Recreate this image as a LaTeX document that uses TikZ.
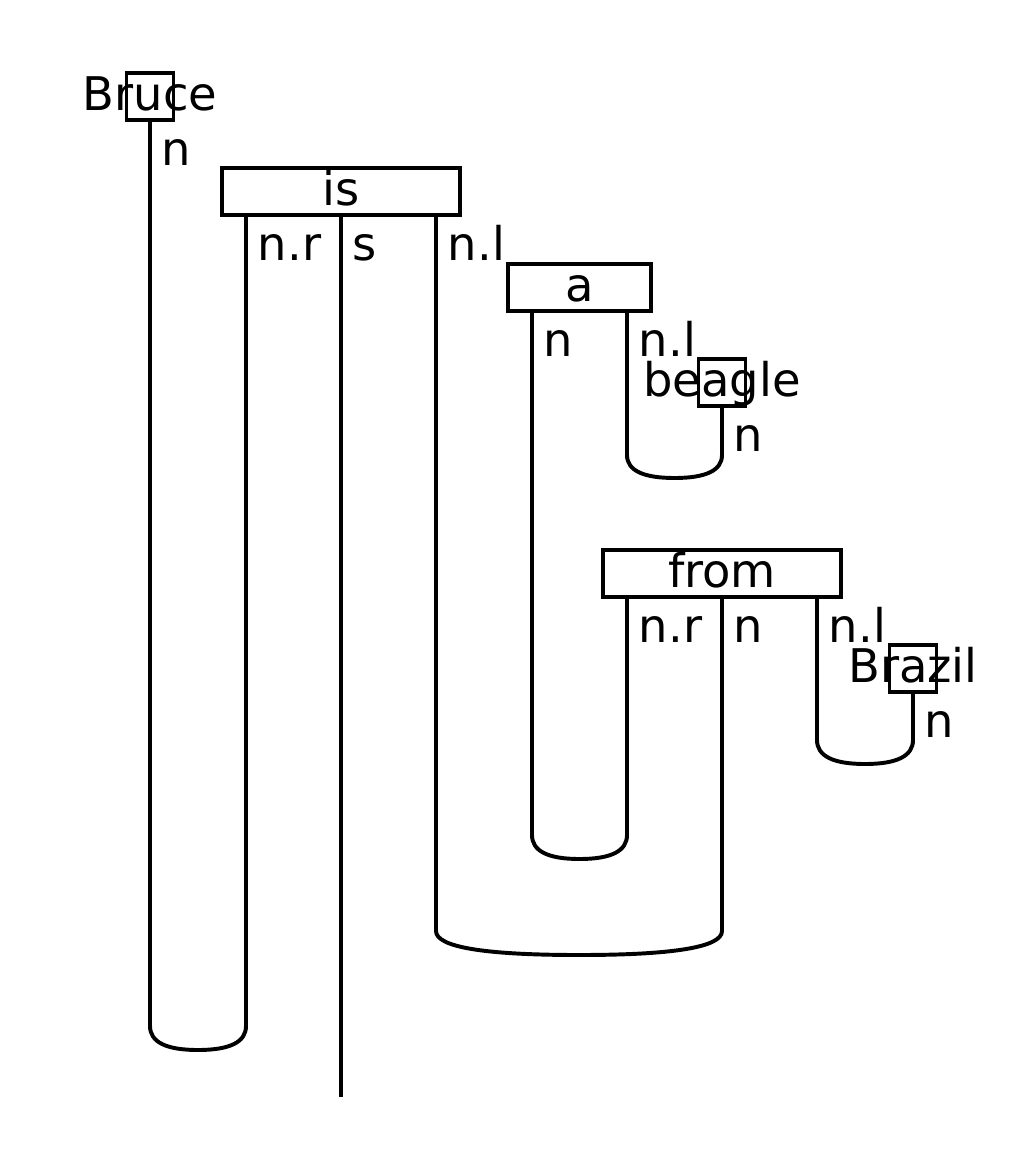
\documentclass[tikz,border=0pt]{standalone}
\usepackage{fontspec}
\setmainfont{DejaVu Sans}
\begin{document}
\begin{tikzpicture}[x=0.025cm, y=-0.025cm, line width=2.8pt,
  wordbox/.style={draw, rectangle, inner sep=0pt, minimum height=1.175cm},
  wordtext/.style={anchor=base, inner sep=0pt, font=\fontsize{33}{40}\selectfont},
  wirelabel/.style={anchor=base west, inner sep=0pt, font=\fontsize{33}{40}\selectfont}]
  \useasboundingbox (0,0) rectangle (1031,1176);

  % boxes
  \node (bruce)  [wordbox, minimum width=1.175cm] at (150,96.5) {};
  \node (is)     [wordbox, minimum width=5.95cm]  at (341,191.5) {};
  \node (a)      [wordbox, minimum width=3.575cm] at (579.5,287.5) {};
  \node (beagle) [wordbox, minimum width=1.175cm] at (722,382.5) {};
  \node (from)   [wordbox, minimum width=5.95cm]  at (722,573.5) {};
  \node (brazil) [wordbox, minimum width=1.175cm] at (913,668.5) {};

  \node (bruce-t)  [wordtext] at (150,110) {Bruce};
  \node (is-t)     [wordtext] at (341,205) {is};
  \node (a-t)      [wordtext] at (579.5,301) {a};
  \node (beagle-t) [wordtext] at (722,396) {beagle};
  \node (from-t)   [wordtext] at (722,587) {from};
  \node (brazil-t) [wordtext] at (913,682) {Brazil};

  % output ports
  \coordinate (is-nr)   at (246,215);
  \coordinate (is-s)    at (341,215);
  \coordinate (is-nl)   at (436,215);
  \coordinate (a-n)     at (532,311);
  \coordinate (a-nl)    at (627,311);
  \coordinate (from-nr) at (627,597);
  \coordinate (from-n)  at (722,597);
  \coordinate (from-nl) at (817,597);

  % cup corners
  \coordinate (c1l) at (150,1026); \coordinate (c1r) at (246,1026);
  \coordinate (c2l) at (436,931);  \coordinate (c2r) at (722,931);
  \coordinate (c3l) at (532,835);  \coordinate (c3r) at (627,835);
  \coordinate (c4l) at (627,455);  \coordinate (c4r) at (722,455);
  \coordinate (c5l) at (817,740);  \coordinate (c5r) at (913,740);
  \coordinate (s-end) at (341,1097);

  % wires
  \draw (bruce.south) -- (c1l) .. controls (150,1042) and (166,1050) .. (198,1050)
        .. controls (230,1050) and (246,1042) .. (c1r) -- (is-nr);
  \draw (is-s) -- (s-end);
  \draw (is-nl) -- (c2l) .. controls (436,947) and (483.7,955) .. (579,955)
        .. controls (674.3,955) and (722,947) .. (c2r) -- (from-n);
  \draw (a-n) -- (c3l) .. controls (532,851) and (547.8,859) .. (579.5,859)
        .. controls (611.2,859) and (627,851) .. (c3r) -- (from-nr);
  \draw (a-nl) -- (c4l) .. controls (627,470.3) and (642.8,478) .. (674.5,478)
        .. controls (706.2,478) and (722,470.3) .. (c4r) -- (beagle.south);
  \draw (from-nl) -- (c5l) .. controls (817,756) and (833,764) .. (865,764)
        .. controls (897,764) and (913,756) .. (c5r) -- (brazil.south);

  % wire types
  \node (l-bruce)   [wirelabel] at (160,165) {n};
  \node (l-is-nr)   [wirelabel] at (256,260) {n.r};
  \node (l-is-s)    [wirelabel] at (351,260) {s};
  \node (l-is-nl)   [wirelabel] at (446,260) {n.l};
  \node (l-a-n)     [wirelabel] at (542,356) {n};
  \node (l-a-nl)    [wirelabel] at (637,356) {n.l};
  \node (l-beagle)  [wirelabel] at (732,451) {n};
  \node (l-from-nr) [wirelabel] at (637,642) {n.r};
  \node (l-from-n)  [wirelabel] at (732,642) {n};
  \node (l-from-nl) [wirelabel] at (827,642) {n.l};
  \node (l-brazil)  [wirelabel] at (923,737) {n};
\end{tikzpicture}
\end{document}
